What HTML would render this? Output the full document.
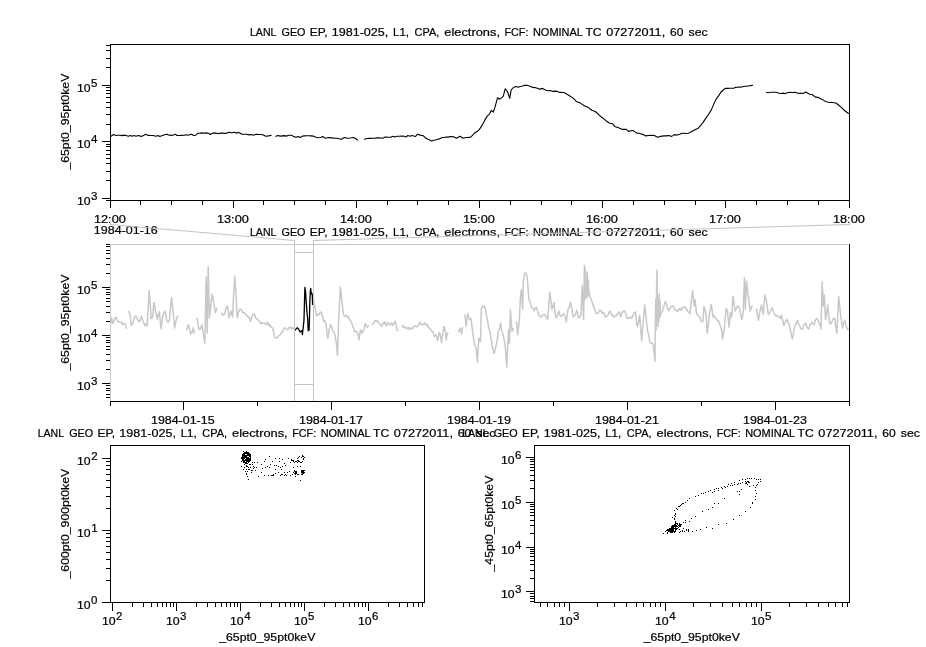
<!DOCTYPE html>
<html><head><meta charset="utf-8"><title>plot</title>
<style>
html,body{margin:0;padding:0;background:#fff;width:926px;height:647px;overflow:hidden;}
svg{display:block;will-change:transform;}
text{font-family:"Liberation Sans", sans-serif;stroke:#000;stroke-width:0.22px;}
</style></head><body>
<svg width="926" height="647" viewBox="0 0 926 647" font-family='"Liberation Sans", sans-serif' fill="#000">
<rect x="0" y="0" width="926" height="647" fill="#fff"/>
<text x="249.98" y="36" font-size="11.5" textLength="26.48" lengthAdjust="spacingAndGlyphs">LANL</text>
<text x="281.53" y="36" font-size="11.5" textLength="24.00" lengthAdjust="spacingAndGlyphs">GEO</text>
<text x="309.76" y="36" font-size="11.5" textLength="17.74" lengthAdjust="spacingAndGlyphs">EP,</text>
<text x="331.68" y="36" font-size="11.5" textLength="56.67" lengthAdjust="spacingAndGlyphs">1981-025,</text>
<text x="393.00" y="36" font-size="11.5" textLength="16.00" lengthAdjust="spacingAndGlyphs">L1,</text>
<text x="414.62" y="36" font-size="11.5" textLength="24.73" lengthAdjust="spacingAndGlyphs">CPA,</text>
<text x="444.34" y="36" font-size="11.5" textLength="55.62" lengthAdjust="spacingAndGlyphs">electrons,</text>
<text x="504.46" y="36" font-size="11.5" textLength="24.04" lengthAdjust="spacingAndGlyphs">FCF:</text>
<text x="532.95" y="36" font-size="11.5" textLength="49.94" lengthAdjust="spacingAndGlyphs">NOMINAL</text>
<text x="585.44" y="36" font-size="11.5" textLength="16.19" lengthAdjust="spacingAndGlyphs">TC</text>
<text x="606.15" y="36" font-size="11.5" textLength="59.07" lengthAdjust="spacingAndGlyphs">07272011,</text>
<text x="670.08" y="36" font-size="11.5" textLength="13.40" lengthAdjust="spacingAndGlyphs">60</text>
<text x="688.53" y="36" font-size="11.5" textLength="19.20" lengthAdjust="spacingAndGlyphs">sec</text>
<rect x="110" y="44" width="740" height="1" fill="#000"/>
<rect x="110" y="200" width="740" height="1" fill="#000"/>
<rect x="110" y="44" width="1" height="157" fill="#000"/>
<rect x="849" y="44" width="1" height="157" fill="#000"/>
<rect x="106" y="200" width="4" height="1" fill="#000"/>
<rect x="102" y="198" width="8" height="1" fill="#000"/>
<text x="77.00" y="205" font-size="11.5" textLength="13.58" lengthAdjust="spacingAndGlyphs">10</text>
<text x="91.00" y="200" font-size="11.5">3</text>
<rect x="106" y="180" width="4" height="1" fill="#000"/>
<rect x="106" y="171" width="4" height="1" fill="#000"/>
<rect x="106" y="163" width="4" height="1" fill="#000"/>
<rect x="106" y="158" width="4" height="1" fill="#000"/>
<rect x="106" y="154" width="4" height="1" fill="#000"/>
<rect x="106" y="150" width="4" height="1" fill="#000"/>
<rect x="106" y="146" width="4" height="1" fill="#000"/>
<rect x="106" y="144" width="4" height="1" fill="#000"/>
<rect x="102" y="141" width="8" height="1" fill="#000"/>
<text x="77.00" y="148" font-size="11.5" textLength="13.58" lengthAdjust="spacingAndGlyphs">10</text>
<text x="91.00" y="143" font-size="11.5">4</text>
<rect x="106" y="124" width="4" height="1" fill="#000"/>
<rect x="106" y="114" width="4" height="1" fill="#000"/>
<rect x="106" y="107" width="4" height="1" fill="#000"/>
<rect x="106" y="102" width="4" height="1" fill="#000"/>
<rect x="106" y="97" width="4" height="1" fill="#000"/>
<rect x="106" y="93" width="4" height="1" fill="#000"/>
<rect x="106" y="90" width="4" height="1" fill="#000"/>
<rect x="106" y="87" width="4" height="1" fill="#000"/>
<rect x="102" y="85" width="8" height="1" fill="#000"/>
<text x="77.00" y="92" font-size="11.5" textLength="13.58" lengthAdjust="spacingAndGlyphs">10</text>
<text x="91.00" y="87" font-size="11.5">5</text>
<rect x="106" y="67" width="4" height="1" fill="#000"/>
<rect x="106" y="58" width="4" height="1" fill="#000"/>
<rect x="106" y="50" width="4" height="1" fill="#000"/>
<rect x="106" y="45" width="4" height="1" fill="#000"/>
<rect x="110" y="201" width="1" height="7" fill="#000"/>
<rect x="140" y="201" width="1" height="4" fill="#000"/>
<rect x="171" y="201" width="1" height="4" fill="#000"/>
<rect x="202" y="201" width="1" height="4" fill="#000"/>
<rect x="233" y="201" width="1" height="7" fill="#000"/>
<rect x="263" y="201" width="1" height="4" fill="#000"/>
<rect x="294" y="201" width="1" height="4" fill="#000"/>
<rect x="325" y="201" width="1" height="4" fill="#000"/>
<rect x="356" y="201" width="1" height="7" fill="#000"/>
<rect x="387" y="201" width="1" height="4" fill="#000"/>
<rect x="417" y="201" width="1" height="4" fill="#000"/>
<rect x="448" y="201" width="1" height="4" fill="#000"/>
<rect x="479" y="201" width="1" height="7" fill="#000"/>
<rect x="510" y="201" width="1" height="4" fill="#000"/>
<rect x="541" y="201" width="1" height="4" fill="#000"/>
<rect x="571" y="201" width="1" height="4" fill="#000"/>
<rect x="602" y="201" width="1" height="7" fill="#000"/>
<rect x="633" y="201" width="1" height="4" fill="#000"/>
<rect x="664" y="201" width="1" height="4" fill="#000"/>
<rect x="695" y="201" width="1" height="4" fill="#000"/>
<rect x="725" y="201" width="1" height="7" fill="#000"/>
<rect x="756" y="201" width="1" height="4" fill="#000"/>
<rect x="787" y="201" width="1" height="4" fill="#000"/>
<rect x="818" y="201" width="1" height="4" fill="#000"/>
<rect x="849" y="201" width="1" height="7" fill="#000"/>
<text x="93.92" y="223" font-size="11.5" textLength="31.92" lengthAdjust="spacingAndGlyphs">12:00</text>
<text x="216.92" y="223" font-size="11.5" textLength="31.92" lengthAdjust="spacingAndGlyphs">13:00</text>
<text x="339.92" y="223" font-size="11.5" textLength="31.92" lengthAdjust="spacingAndGlyphs">14:00</text>
<text x="462.92" y="223" font-size="11.5" textLength="31.92" lengthAdjust="spacingAndGlyphs">15:00</text>
<text x="585.92" y="223" font-size="11.5" textLength="31.92" lengthAdjust="spacingAndGlyphs">16:00</text>
<text x="708.92" y="223" font-size="11.5" textLength="31.92" lengthAdjust="spacingAndGlyphs">17:00</text>
<text x="832.92" y="223" font-size="11.5" textLength="31.92" lengthAdjust="spacingAndGlyphs">18:00</text>
<text x="93.89" y="234" font-size="11.5" textLength="63.84" lengthAdjust="spacingAndGlyphs">1984-01-16</text>
<text x="0" y="0" font-size="11.5" textLength="95.82" lengthAdjust="spacingAndGlyphs" transform="translate(69,169.53) rotate(-90)">_65pt0_95pt0keV</text>
<g clip-path="url(#c1)">
<polyline points="110.5,136.2 111.0,136.2 113.6,134.5 115.8,135.5 117.9,135.3 119.9,135.2 122.0,135.6 124.0,135.1 126.1,135.5 128.3,136.2 130.5,135.5 132.2,136.2 133.9,135.5 136.1,136.2 138.2,135.5 141.3,136.4 143.0,135.8 145.6,134.3 148.2,135.4 150.6,135.5 152.9,135.5 156.4,136.2 158.1,135.5 159.8,136.4 162.4,135.5 164.6,134.8 166.7,134.3 170.2,135.4 172.8,135.2 175.4,134.3 177.1,135.5 180.6,135.4 184.0,135.2 186.0,134.8 188.0,135.2 191.4,134.2 193.8,135.5 195.8,135.2 197.7,133.3 199.8,133.3 202.0,132.9 204.1,133.2 206.3,132.9 208.4,133.3 210.4,134.5 212.3,133.3 214.4,132.9 216.5,133.2 218.6,133.6 220.6,133.0 222.7,133.1 224.8,133.4 226.9,133.3 228.8,132.3 231.7,132.7 234.6,132.3 236.6,133.3 238.5,132.3 241.9,134.2 244.2,134.3 246.6,134.3 248.9,134.9 251.2,134.5 253.6,135.2 256.0,134.2 259.9,134.5 262.8,134.7 265.7,136.2 268.7,135.9 271.6,135.2" fill="none" stroke="#000" stroke-width="1.1" stroke-linejoin="round"/>
<polyline points="275.4,136.4 277.6,135.6 280.8,136.1 284.0,135.6 286.2,136.1 288.9,135.3 291.6,135.3 293.8,136.6 295.9,137.2 298.1,136.6 300.2,137.5 302.4,136.1 304.6,135.9 306.7,135.8 308.9,135.8 311.0,135.9 313.2,136.1 316.4,137.5 318.6,137.8 320.8,137.5 322.9,136.4 325.1,138.3 328.3,137.5 331.6,137.9 334.8,138.3 337.0,138.3 339.1,138.8 341.3,139.3 344.5,137.5 347.8,138.3 350.5,138.0 353.2,137.5 355.3,138.3 358.0,140.4" fill="none" stroke="#000" stroke-width="1.1" stroke-linejoin="round"/>
<polyline points="364.0,139.3 365.0,139.0 368.6,138.3 370.6,138.4 372.7,138.2 374.7,138.3 376.7,137.9 378.7,137.9 380.8,138.0 382.8,138.3 385.2,137.1 388.1,137.3 391.1,137.1 392.9,136.3 394.7,137.1 397.1,136.3 399.5,136.2 401.8,136.1 404.2,136.3 406.0,137.1 407.8,135.5 410.1,136.3 411.9,135.5 415.5,136.5 417.3,134.3 420.2,135.1 423.2,135.7 425.6,138.1 428.6,139.5 431.5,141.0 433.9,140.2 436.3,139.8 439.2,138.9 442.2,137.5 444.2,137.5 446.2,137.0 448.2,137.1 450.5,136.5 454.1,136.9 456.5,138.3 460.0,136.3 463.0,138.3 466.0,137.5 468.4,137.4 470.7,137.1 472.9,134.9 475.0,132.7 477.1,131.5 479.3,129.6 482.5,124.6 484.9,119.9 487.4,115.9 489.3,114.4 491.4,110.3 493.3,112.2 495.1,106.6 497.6,97.7 499.8,99.2 503.2,96.4 505.3,88.7 507.5,91.8 509.7,98.3 511.2,89.9 513.4,87.5 515.8,86.4 518.3,87.2 520.0,86.5 522.0,86.2 524.0,85.4 527.0,85.2 529.4,86.0 531.7,87.1 535.0,87.6 538.0,88.6 540.0,89.1 542.6,88.4 546.0,90.2 548.2,90.8 550.4,90.5 553.0,91.4 555.1,91.1 557.3,91.4 559.9,92.4 563.8,92.5 567.6,94.5 569.8,96.0 573.3,98.1 576.7,101.8 579.7,102.6 582.3,104.4 584.9,105.9 588.4,107.6 591.8,110.2 595.3,111.5 598.7,114.6 600.0,116.0 602.1,117.5 604.3,119.1 606.7,121.3 609.1,123.0 612.5,123.7 614.7,126.4 618.6,127.7 622.5,129.4 626.3,129.4 628.5,131.4 630.9,130.7 633.3,130.6 636.3,132.9 638.5,133.3 640.6,133.8 643.2,134.6 645.8,135.9 648.4,135.5 651.8,135.3 654.4,135.5 657.5,137.2 660.5,136.4 663.9,135.9 666.5,135.9 669.1,135.5 671.7,136.4 674.3,134.6 676.9,135.1 679.7,134.2 682.0,133.3 684.3,133.3 686.4,133.5 688.5,133.3 690.8,131.9 694.5,130.0 698.2,128.2 700.5,125.6 702.9,122.6 706.6,117.1 708.9,113.7 711.2,110.1 714.0,103.6 716.8,98.1 718.9,95.4 721.0,92.0 723.3,90.0 725.6,88.3 727.7,88.4 729.8,88.2 731.8,88.3 733.9,88.3 735.3,87.4 737.5,87.3 739.6,87.1 741.8,87.0 744.6,86.3 746.9,86.3 749.2,85.7 752.9,85.4" fill="none" stroke="#000" stroke-width="1.1" stroke-linejoin="round"/>
<polyline points="766.0,92.3 768.4,92.7 770.7,92.3 773.6,92.3 776.5,92.3 779.0,93.3 781.1,93.5 783.2,93.1 785.3,93.6 789.2,92.3 792.1,92.5 795.0,92.3 797.9,93.3 800.8,93.4 803.7,93.3 805.7,92.0 809.6,94.2 812.0,94.5 815.4,97.1 818.3,97.4 822.2,99.4 824.7,101.1 827.1,102.0 829.5,102.5 831.9,102.5 834.1,102.7 836.3,103.3 838.5,105.0 840.7,106.9 844.5,110.5 848.0,113.2 849.5,113.4" fill="none" stroke="#000" stroke-width="1.1" stroke-linejoin="round"/>
</g>
<text x="249.98" y="236" font-size="11.5" textLength="26.48" lengthAdjust="spacingAndGlyphs">LANL</text>
<text x="281.53" y="236" font-size="11.5" textLength="24.00" lengthAdjust="spacingAndGlyphs">GEO</text>
<text x="309.76" y="236" font-size="11.5" textLength="17.74" lengthAdjust="spacingAndGlyphs">EP,</text>
<text x="331.68" y="236" font-size="11.5" textLength="56.67" lengthAdjust="spacingAndGlyphs">1981-025,</text>
<text x="393.00" y="236" font-size="11.5" textLength="16.00" lengthAdjust="spacingAndGlyphs">L1,</text>
<text x="414.62" y="236" font-size="11.5" textLength="24.73" lengthAdjust="spacingAndGlyphs">CPA,</text>
<text x="444.34" y="236" font-size="11.5" textLength="55.62" lengthAdjust="spacingAndGlyphs">electrons,</text>
<text x="504.46" y="236" font-size="11.5" textLength="24.04" lengthAdjust="spacingAndGlyphs">FCF:</text>
<text x="532.95" y="236" font-size="11.5" textLength="49.94" lengthAdjust="spacingAndGlyphs">NOMINAL</text>
<text x="585.44" y="236" font-size="11.5" textLength="16.19" lengthAdjust="spacingAndGlyphs">TC</text>
<text x="606.15" y="236" font-size="11.5" textLength="59.07" lengthAdjust="spacingAndGlyphs">07272011,</text>
<text x="670.08" y="236" font-size="11.5" textLength="13.40" lengthAdjust="spacingAndGlyphs">60</text>
<text x="688.53" y="236" font-size="11.5" textLength="19.20" lengthAdjust="spacingAndGlyphs">sec</text>
<polyline points="110.8,322.9 111.7,317.8 112.5,323.7 113.8,321.5 115.1,317.8 116.3,317.4 117.6,321.2 118.9,321.7 120.2,322.6 121.5,322.1 122.7,324.6 124.4,323.2 125.5,324.3 126.5,328.8" fill="none" stroke="#c8c8c8" stroke-width="1.5" stroke-linejoin="round"/>
<polyline points="128.4,311.0 130.0,314.4 131.2,325.4 132.9,322.9 134.6,317.0 135.9,315.9 137.2,318.6 138.9,322.0 140.2,320.2 141.4,316.1 143.1,321.2 144.8,325.4 145.9,324.1 147.1,326.0 147.7,316.1 149.1,290.6 150.3,304.2 151.1,318.6 152.5,317.8 153.9,302.5 155.6,311.0 157.3,319.5 158.3,314.5 159.3,311.8 161.0,328.8 162.7,316.1 163.9,313.1 165.2,311.0 166.9,321.2 168.2,322.4 169.5,320.3 170.5,307.0 171.5,297.4 173.2,312.7 174.6,328.0 176.3,319.5 178.0,315.2" fill="none" stroke="#c8c8c8" stroke-width="1.5" stroke-linejoin="round"/>
<polyline points="186.5,330.5 187.5,327.3 188.5,324.6 189.6,329.5 190.7,333.9 192.0,332.6 193.3,328.0 194.5,333.9" fill="none" stroke="#c8c8c8" stroke-width="1.5" stroke-linejoin="round"/>
<polyline points="197.0,317.8 198.1,325.2 199.2,329.7 200.5,328.8 201.8,324.6 202.8,329.9 203.8,336.7 204.8,343.3 206.2,277.0 207.2,333.1 208.2,266.8 209.4,317.8 210.3,311.0 212.0,294.0 213.7,302.5 215.4,312.7 216.4,309.5 217.4,307.6" fill="none" stroke="#c8c8c8" stroke-width="1.5" stroke-linejoin="round"/>
<polyline points="221.3,312.7 222.4,314.7 223.6,315.2 224.7,313.5 226.0,308.2 227.3,305.9 229.2,317.8 231.0,311.0 232.6,316.9 233.6,295.1 234.7,276.1 236.0,294.0 237.2,317.8 238.6,311.8 239.8,309.4 241.1,309.3 242.8,312.7 244.1,312.4 245.4,314.4 246.5,315.2 247.7,316.5 248.8,316.9 250.5,321.2 251.8,316.8 253.0,314.4 254.3,313.9 255.6,317.8 256.7,318.6 257.9,319.5 259.0,321.2 260.0,321.8 261.0,323.9 262.1,323.1 263.1,322.6 264.1,322.9 265.3,323.8 266.5,324.4 267.6,322.0 268.8,326.0 270.0,324.6 271.3,327.5 272.6,328.0 274.3,335.6 275.4,337.8 276.6,338.0 277.7,337.3 278.9,335.6 280.2,334.8 281.5,332.7 282.8,331.4 284.1,328.0 285.3,328.0 286.6,329.4 287.9,329.7 289.0,327.5 290.2,327.2 291.3,328.8 292.3,327.8 293.4,327.9 294.4,329.7" fill="none" stroke="#c8c8c8" stroke-width="1.5" stroke-linejoin="round"/>
<polyline points="313.5,300.0 315.1,308.4 316.8,316.1 318.1,314.5 319.3,314.4 320.6,312.0 321.9,313.5 323.6,321.2 324.9,320.7 326.1,324.6 327.8,338.2 329.1,329.9 330.4,324.6 331.6,326.2 332.9,331.4 334.0,332.5 335.1,334.8 336.3,342.9 337.5,355.2 338.5,324.6 340.3,287.2 341.7,299.1 343.4,314.4 344.6,316.4 345.9,315.2 347.0,317.1 348.2,316.5 349.3,319.5 350.6,320.5 351.9,323.7 353.1,326.9 354.4,331.4 355.7,331.2 357.0,332.2 358.0,334.4 359.0,339.9 360.4,329.7 362.1,333.1 363.1,331.5 364.2,329.0 365.2,323.7 366.2,325.3 367.2,327.1 368.9,325.4" fill="none" stroke="#c8c8c8" stroke-width="1.5" stroke-linejoin="round"/>
<polyline points="371.4,324.6 372.7,323.7 374.0,322.9 375.2,320.4 376.5,321.5 377.6,320.7 378.6,322.8 379.7,323.4 380.8,325.4 381.9,326.3 383.1,322.8 384.2,323.7 385.2,321.7 386.2,325.9 387.3,324.2 388.3,322.6 389.3,324.3 390.4,324.9 391.6,323.0 392.7,325.4 393.9,323.4 395.2,321.2 396.1,326.3 397.4,330.5 398.6,330.5" fill="none" stroke="#c8c8c8" stroke-width="1.5" stroke-linejoin="round"/>
<polyline points="402.0,324.6 403.1,327.2 404.1,327.6 405.2,326.7 406.3,328.8 407.3,328.1 408.3,327.0 409.4,329.5 410.4,328.3 411.4,328.0 412.4,328.9 413.5,326.6 414.6,325.7 415.6,326.6 416.7,326.8 417.8,326.4 418.8,324.7 419.9,322.0 421.0,324.1 422.2,324.9 423.3,324.3 425.0,322.9 426.1,325.4 427.3,324.5 428.4,327.1 429.5,328.6 430.7,329.3 431.8,331.4 433.1,331.9 434.3,336.5 436.0,334.8 437.7,340.7 439.4,332.2 440.4,335.2 441.5,342.4 442.8,333.4 444.0,326.3 445.4,331.4 446.2,339.9 447.4,333.1 448.4,333.9" fill="none" stroke="#c8c8c8" stroke-width="1.5" stroke-linejoin="round"/>
<polyline points="458.4,332.2 460.1,328.0 461.5,333.9 462.6,327.1" fill="none" stroke="#c8c8c8" stroke-width="1.5" stroke-linejoin="round"/>
<polyline points="464.9,314.4 466.0,326.3 467.7,313.5 469.4,319.5 471.1,318.6 472.8,333.1 474.5,345.0 476.2,348.4 477.4,362.0 478.8,338.2 480.5,341.6 481.3,309.3 483.0,305.9 484.1,306.1 485.3,308.4 486.3,314.3 487.3,318.6 488.6,327.0 489.8,331.4 491.1,338.8 492.4,346.7 494.1,353.5 495.8,346.7 497.1,341.0 498.3,331.4 499.5,329.3 500.6,322.9 501.6,330.0 502.6,333.1 503.9,338.5 505.1,345.0 506.8,367.1 508.5,329.7 509.4,343.3 510.4,310.1 512.0,331.4 513.6,328.0" fill="none" stroke="#c8c8c8" stroke-width="1.5" stroke-linejoin="round"/>
<polyline points="516.5,321.2 517.6,334.8 519.3,321.2 520.4,297.4 521.3,289.7 522.7,309.3 523.3,280.4 525.0,272.7 526.1,273.6 527.2,277.0 528.9,299.1 530.2,302.1 531.5,307.6 532.8,308.0 534.0,311.0 535.3,308.0 536.6,307.6 537.9,311.9 539.1,315.2 540.2,317.0 541.4,316.7 542.5,315.2 543.8,314.7 545.1,314.4 546.4,317.5 547.6,319.2 548.7,307.1 549.8,292.3 550.8,299.0 551.9,309.3 552.9,306.6 553.9,302.5 555.0,312.0 556.1,317.8 557.4,315.6 558.7,311.0 560.0,315.1 561.2,316.9 562.5,315.1 563.8,313.5 565.0,316.3 566.3,322.0 568.0,309.3 569.3,307.2 570.6,302.5 572.0,309.4 573.1,317.0 574.1,315.4 575.1,315.3 576.8,310.2 578.5,317.9 579.8,317.5 581.0,314.5 582.2,285.6 583.6,319.6 584.4,265.2 584.8,300.0 585.2,268.0 585.6,277.1 586.0,295.0 586.7,298.3 587.3,272.0 587.8,296.0 588.2,280.0 588.7,290.7 590.0,297.0 591.2,299.2 592.5,303.0 593.8,307.7 594.8,309.2 595.9,313.6 596.9,313.6 598.3,312.9 599.7,310.2 601.0,310.4 602.3,313.6 603.3,312.6 604.4,313.4 605.5,317.3 606.5,316.2 607.8,315.4 609.1,311.9 610.2,311.2 611.4,315.1 612.5,314.5 613.6,317.2 614.8,316.3 615.9,316.2 617.0,314.1 618.2,313.5 619.3,311.9 621.0,317.0 622.2,312.4 623.5,311.1 624.8,311.1 626.1,315.3 627.2,318.2 628.4,317.7 629.5,317.9 630.6,317.2 631.8,318.1 632.9,315.3 634.1,313.3 635.4,311.9 637.1,326.4 638.4,322.5 639.7,315.3 640.7,329.5 641.7,340.8 642.7,327.6 643.8,315.9 644.8,305.1 646.0,316.5 647.3,329.8 648.6,334.6 649.9,341.7 651.0,343.2 652.2,342.9 653.3,345.1 655.0,361.2 655.5,310.0 655.8,299.2 656.2,330.0 656.6,285.0 657.0,270.3 657.3,318.0 657.6,300.0 658.0,326.4 658.4,298.0 658.8,322.0 659.2,294.1 659.6,318.0 660.0,300.0 660.4,316.0 660.9,312.8 662.6,311.1 663.9,306.0 665.2,301.7 666.5,303.9 667.7,309.4 669.0,310.4 670.3,307.7 671.5,306.2 672.8,306.0 674.1,307.9 675.4,310.2 676.5,310.3 677.7,311.4 678.8,309.4 679.9,308.5 681.1,310.1 682.2,307.7 683.6,307.2 685.0,306.7 686.2,309.0 687.5,311.0 688.8,312.4 690.1,313.5 691.4,299.9 692.6,290.6 694.3,305.9 695.2,300.0 696.6,314.4 697.6,315.0 698.6,316.1 699.9,317.3 701.1,321.2 702.8,322.0 704.0,306.7 705.1,309.2 706.2,316.1 707.1,333.1 708.4,324.2 709.6,312.7 711.3,304.5 713.0,316.9 714.1,316.0 715.3,317.9 716.4,318.6 717.7,320.9 719.0,321.2 720.2,325.7 721.5,329.7 722.7,339.0 724.4,328.0 726.1,308.4 727.5,311.0 728.9,327.1 730.6,312.7 731.7,316.9 732.9,296.5 734.0,303.0 735.1,311.0 736.4,308.5 737.7,305.9 739.4,307.6 740.6,313.8 741.9,319.5 743.1,312.7 744.5,277.8 745.3,309.3 746.5,281.2 748.2,295.7 749.3,304.6 750.4,311.0 751.5,306.7 752.7,305.9" fill="none" stroke="#c8c8c8" stroke-width="1.5" stroke-linejoin="round"/>
<polyline points="756.4,308.4 757.4,314.6 758.4,320.3 759.4,314.1 760.5,309.1 761.5,305.0 763.2,314.4 764.9,294.8 766.6,301.6 768.3,314.4 769.5,313.3 770.8,309.9 772.0,307.6 773.1,310.8 774.2,313.5 775.3,315.2 776.5,316.4 777.6,315.2 778.9,316.7 780.2,318.6 781.5,315.2 782.7,320.8 783.9,325.4 785.2,322.3 786.6,319.2 788.0,322.4 789.5,325.4 791.0,333.0 792.4,339.0 793.5,332.8 794.6,327.1 795.6,325.0 796.6,322.5 797.6,320.4 798.6,324.5 799.6,325.5 800.6,328.4 801.6,328.9 802.7,329.3 803.8,324.8 804.8,324.7 805.9,322.9 806.9,326.9 808.0,328.4 809.0,328.9 810.0,324.8 811.0,323.8 812.0,322.4 813.1,324.1 814.1,324.6 815.5,319.8 817.0,318.7 818.3,321.0 819.6,323.6 820.9,328.9 822.2,282.1 823.3,305.9 824.3,294.9 825.5,319.5 826.6,313.0 827.7,305.1 828.7,315.7 829.7,323.8 831.0,323.8 832.3,320.4 833.5,318.0 834.8,318.7 835.8,326.9 836.9,333.1 838.7,296.6 839.8,307.1 840.8,316.1 842.5,328.0 843.8,322.6 845.0,320.4 846.3,326.7 847.6,329.7 848.4,328.0" fill="none" stroke="#c8c8c8" stroke-width="1.5" stroke-linejoin="round"/>
<polyline points="294.6,330.3 295.0,330.1 297.3,327.8 298.7,329.2 300.1,332.0 301.9,330.6 302.4,334.7 303.3,326.4 304.0,319.9 304.5,301.3 304.9,287.4 305.6,292.1 306.1,300.4 307.0,312.5 307.7,319.0 308.2,330.6 309.1,330.1 309.5,317.1 309.8,302.3 310.3,292.1 310.7,288.3 311.2,293.9 311.7,293.0 312.3,294.8 312.6,305.0" fill="none" stroke="#000" stroke-width="1.3" stroke-linejoin="round"/>
<rect x="110" y="244" width="740" height="1" fill="#c8c8c8"/>
<rect x="110" y="244" width="1" height="158" fill="#c8c8c8"/>
<rect x="110" y="401" width="740" height="1" fill="#000"/>
<rect x="849" y="244" width="1" height="158" fill="#000"/>
<rect x="106" y="397" width="4" height="1" fill="#000"/>
<rect x="106" y="394" width="4" height="1" fill="#000"/>
<rect x="106" y="390" width="4" height="1" fill="#000"/>
<rect x="106" y="388" width="4" height="1" fill="#000"/>
<rect x="106" y="385" width="4" height="1" fill="#000"/>
<rect x="102" y="383" width="8" height="1" fill="#000"/>
<text x="77.00" y="390" font-size="11.5" textLength="13.58" lengthAdjust="spacingAndGlyphs">10</text>
<text x="91.00" y="385" font-size="11.5">3</text>
<rect x="106" y="369" width="4" height="1" fill="#000"/>
<rect x="106" y="360" width="4" height="1" fill="#000"/>
<rect x="106" y="354" width="4" height="1" fill="#000"/>
<rect x="106" y="349" width="4" height="1" fill="#000"/>
<rect x="106" y="346" width="4" height="1" fill="#000"/>
<rect x="106" y="342" width="4" height="1" fill="#000"/>
<rect x="106" y="340" width="4" height="1" fill="#000"/>
<rect x="106" y="337" width="4" height="1" fill="#000"/>
<rect x="102" y="335" width="8" height="1" fill="#000"/>
<text x="77.00" y="342" font-size="11.5" textLength="13.58" lengthAdjust="spacingAndGlyphs">10</text>
<text x="91.00" y="337" font-size="11.5">4</text>
<rect x="106" y="321" width="4" height="1" fill="#000"/>
<rect x="106" y="312" width="4" height="1" fill="#000"/>
<rect x="106" y="306" width="4" height="1" fill="#000"/>
<rect x="106" y="301" width="4" height="1" fill="#000"/>
<rect x="106" y="298" width="4" height="1" fill="#000"/>
<rect x="106" y="294" width="4" height="1" fill="#000"/>
<rect x="106" y="292" width="4" height="1" fill="#000"/>
<rect x="106" y="289" width="4" height="1" fill="#000"/>
<rect x="102" y="287" width="8" height="1" fill="#000"/>
<text x="77.00" y="294" font-size="11.5" textLength="13.58" lengthAdjust="spacingAndGlyphs">10</text>
<text x="91.00" y="289" font-size="11.5">5</text>
<rect x="106" y="273" width="4" height="1" fill="#000"/>
<rect x="106" y="264" width="4" height="1" fill="#000"/>
<rect x="106" y="258" width="4" height="1" fill="#000"/>
<rect x="106" y="253" width="4" height="1" fill="#000"/>
<rect x="106" y="250" width="4" height="1" fill="#000"/>
<rect x="106" y="246" width="4" height="1" fill="#000"/>
<rect x="106" y="244" width="4" height="1" fill="#000"/>
<rect x="110" y="402" width="1" height="4" fill="#000"/>
<rect x="183" y="402" width="1" height="8" fill="#000"/>
<text x="150.99" y="424" font-size="11.5" textLength="63.56" lengthAdjust="spacingAndGlyphs">1984-01-15</text>
<rect x="257" y="402" width="1" height="4" fill="#000"/>
<rect x="331" y="402" width="1" height="8" fill="#000"/>
<text x="298.99" y="424" font-size="11.5" textLength="63.84" lengthAdjust="spacingAndGlyphs">1984-01-17</text>
<rect x="405" y="402" width="1" height="4" fill="#000"/>
<rect x="479" y="402" width="1" height="8" fill="#000"/>
<text x="446.99" y="424" font-size="11.5" textLength="63.84" lengthAdjust="spacingAndGlyphs">1984-01-19</text>
<rect x="553" y="402" width="1" height="4" fill="#000"/>
<rect x="627" y="402" width="1" height="8" fill="#000"/>
<text x="594.99" y="424" font-size="11.5" textLength="63.84" lengthAdjust="spacingAndGlyphs">1984-01-21</text>
<rect x="701" y="402" width="1" height="4" fill="#000"/>
<rect x="775" y="402" width="1" height="8" fill="#000"/>
<text x="742.99" y="424" font-size="11.5" textLength="63.84" lengthAdjust="spacingAndGlyphs">1984-01-23</text>
<rect x="849" y="402" width="1" height="4" fill="#000"/>
<text x="0" y="0" font-size="11.5" textLength="95.92" lengthAdjust="spacingAndGlyphs" transform="translate(69,370.53) rotate(-90)">_65pt0_95pt0keV</text>
<rect x="294" y="240" width="1" height="161" fill="#c4c4c4"/>
<rect x="313" y="240" width="1" height="161" fill="#c4c4c4"/>
<rect x="294" y="252" width="20" height="1" fill="#c4c4c4"/>
<rect x="294" y="384" width="20" height="1" fill="#c4c4c4"/>
<rect x="110" y="222" width="1" height="3" fill="#c4c4c4"/>
<rect x="849" y="222" width="1" height="3" fill="#c4c4c4"/>
<line x1="110.5" y1="224.5" x2="294.5" y2="240.5" stroke="#c4c4c4" stroke-width="1"/>
<line x1="849.5" y1="224.5" x2="313.5" y2="240.5" stroke="#c4c4c4" stroke-width="1"/>
<text x="37.68" y="437" font-size="11.5" textLength="26.48" lengthAdjust="spacingAndGlyphs">LANL</text>
<text x="69.23" y="437" font-size="11.5" textLength="24.00" lengthAdjust="spacingAndGlyphs">GEO</text>
<text x="97.46" y="437" font-size="11.5" textLength="17.74" lengthAdjust="spacingAndGlyphs">EP,</text>
<text x="119.38" y="437" font-size="11.5" textLength="56.67" lengthAdjust="spacingAndGlyphs">1981-025,</text>
<text x="180.70" y="437" font-size="11.5" textLength="16.00" lengthAdjust="spacingAndGlyphs">L1,</text>
<text x="202.32" y="437" font-size="11.5" textLength="24.73" lengthAdjust="spacingAndGlyphs">CPA,</text>
<text x="232.04" y="437" font-size="11.5" textLength="55.62" lengthAdjust="spacingAndGlyphs">electrons,</text>
<text x="292.16" y="437" font-size="11.5" textLength="24.04" lengthAdjust="spacingAndGlyphs">FCF:</text>
<text x="320.65" y="437" font-size="11.5" textLength="49.94" lengthAdjust="spacingAndGlyphs">NOMINAL</text>
<text x="373.14" y="437" font-size="11.5" textLength="16.19" lengthAdjust="spacingAndGlyphs">TC</text>
<text x="393.85" y="437" font-size="11.5" textLength="59.07" lengthAdjust="spacingAndGlyphs">07272011,</text>
<text x="457.78" y="437" font-size="11.5" textLength="13.40" lengthAdjust="spacingAndGlyphs">60</text>
<text x="476.23" y="437" font-size="11.5" textLength="19.20" lengthAdjust="spacingAndGlyphs">sec</text>
<rect x="110" y="445" width="315" height="1" fill="#000"/>
<rect x="110" y="602" width="315" height="1" fill="#000"/>
<rect x="110" y="445" width="1" height="158" fill="#000"/>
<rect x="424" y="445" width="1" height="158" fill="#000"/>
<rect x="102" y="602" width="8" height="1" fill="#000"/>
<text x="77.00" y="609" font-size="11.5" textLength="13.58" lengthAdjust="spacingAndGlyphs">10</text>
<text x="91.00" y="604" font-size="11.5">0</text>
<rect x="106" y="580" width="4" height="1" fill="#000"/>
<rect x="106" y="568" width="4" height="1" fill="#000"/>
<rect x="106" y="559" width="4" height="1" fill="#000"/>
<rect x="106" y="552" width="4" height="1" fill="#000"/>
<rect x="106" y="546" width="4" height="1" fill="#000"/>
<rect x="106" y="541" width="4" height="1" fill="#000"/>
<rect x="106" y="537" width="4" height="1" fill="#000"/>
<rect x="106" y="533" width="4" height="1" fill="#000"/>
<rect x="102" y="530" width="8" height="1" fill="#000"/>
<text x="77.00" y="537" font-size="11.5" textLength="13.58" lengthAdjust="spacingAndGlyphs">10</text>
<text x="91.25" y="532" font-size="11.5">1</text>
<rect x="106" y="508" width="4" height="1" fill="#000"/>
<rect x="106" y="496" width="4" height="1" fill="#000"/>
<rect x="106" y="487" width="4" height="1" fill="#000"/>
<rect x="106" y="480" width="4" height="1" fill="#000"/>
<rect x="106" y="474" width="4" height="1" fill="#000"/>
<rect x="106" y="469" width="4" height="1" fill="#000"/>
<rect x="106" y="465" width="4" height="1" fill="#000"/>
<rect x="106" y="461" width="4" height="1" fill="#000"/>
<rect x="102" y="458" width="8" height="1" fill="#000"/>
<text x="77.00" y="465" font-size="11.5" textLength="13.58" lengthAdjust="spacingAndGlyphs">10</text>
<text x="91.25" y="460" font-size="11.5">2</text>
<rect x="112" y="603" width="1" height="8" fill="#000"/>
<text x="101.90" y="625" font-size="11.5" textLength="13.69" lengthAdjust="spacingAndGlyphs">10</text>
<text x="116.10" y="620" font-size="11.5">2</text>
<rect x="132" y="603" width="1" height="4" fill="#000"/>
<rect x="143" y="603" width="1" height="4" fill="#000"/>
<rect x="151" y="603" width="1" height="4" fill="#000"/>
<rect x="157" y="603" width="1" height="4" fill="#000"/>
<rect x="162" y="603" width="1" height="4" fill="#000"/>
<rect x="166" y="603" width="1" height="4" fill="#000"/>
<rect x="170" y="603" width="1" height="4" fill="#000"/>
<rect x="173" y="603" width="1" height="4" fill="#000"/>
<rect x="176" y="603" width="1" height="8" fill="#000"/>
<text x="165.90" y="625" font-size="11.5" textLength="13.69" lengthAdjust="spacingAndGlyphs">10</text>
<text x="180.10" y="620" font-size="11.5">3</text>
<rect x="196" y="603" width="1" height="4" fill="#000"/>
<rect x="207" y="603" width="1" height="4" fill="#000"/>
<rect x="215" y="603" width="1" height="4" fill="#000"/>
<rect x="221" y="603" width="1" height="4" fill="#000"/>
<rect x="226" y="603" width="1" height="4" fill="#000"/>
<rect x="230" y="603" width="1" height="4" fill="#000"/>
<rect x="234" y="603" width="1" height="4" fill="#000"/>
<rect x="237" y="603" width="1" height="4" fill="#000"/>
<rect x="240" y="603" width="1" height="8" fill="#000"/>
<text x="229.90" y="625" font-size="11.5" textLength="13.69" lengthAdjust="spacingAndGlyphs">10</text>
<text x="244.35" y="620" font-size="11.5">4</text>
<rect x="260" y="603" width="1" height="4" fill="#000"/>
<rect x="271" y="603" width="1" height="4" fill="#000"/>
<rect x="279" y="603" width="1" height="4" fill="#000"/>
<rect x="285" y="603" width="1" height="4" fill="#000"/>
<rect x="290" y="603" width="1" height="4" fill="#000"/>
<rect x="294" y="603" width="1" height="4" fill="#000"/>
<rect x="298" y="603" width="1" height="4" fill="#000"/>
<rect x="301" y="603" width="1" height="4" fill="#000"/>
<rect x="304" y="603" width="1" height="8" fill="#000"/>
<text x="293.90" y="625" font-size="11.5" textLength="13.69" lengthAdjust="spacingAndGlyphs">10</text>
<text x="308.10" y="620" font-size="11.5">5</text>
<rect x="324" y="603" width="1" height="4" fill="#000"/>
<rect x="335" y="603" width="1" height="4" fill="#000"/>
<rect x="343" y="603" width="1" height="4" fill="#000"/>
<rect x="349" y="603" width="1" height="4" fill="#000"/>
<rect x="354" y="603" width="1" height="4" fill="#000"/>
<rect x="358" y="603" width="1" height="4" fill="#000"/>
<rect x="362" y="603" width="1" height="4" fill="#000"/>
<rect x="365" y="603" width="1" height="4" fill="#000"/>
<rect x="368" y="603" width="1" height="8" fill="#000"/>
<text x="357.90" y="625" font-size="11.5" textLength="13.69" lengthAdjust="spacingAndGlyphs">10</text>
<text x="372.10" y="620" font-size="11.5">6</text>
<rect x="388" y="603" width="1" height="4" fill="#000"/>
<rect x="399" y="603" width="1" height="4" fill="#000"/>
<rect x="407" y="603" width="1" height="4" fill="#000"/>
<rect x="413" y="603" width="1" height="4" fill="#000"/>
<rect x="418" y="603" width="1" height="4" fill="#000"/>
<rect x="422" y="603" width="1" height="4" fill="#000"/>
<text x="0" y="0" font-size="11.5" textLength="109.65" lengthAdjust="spacingAndGlyphs" transform="translate(69,578.48) rotate(-90)">_600pt0_900pt0keV</text>
<text x="219.17" y="641" font-size="11.5" textLength="96.22" lengthAdjust="spacingAndGlyphs">_65pt0_95pt0keV</text>
<path d="M241 466h1v1h-1zM241 461h1v1h-1zM243 451h1v1h-1zM246 466h1v1h-1zM246 469h1v1h-1zM246 473h1v1h-1zM247 476h1v1h-1zM248 479h1v1h-1zM249 469h1v1h-1zM252 464h1v1h-1zM252 470h1v1h-1zM254 462h1v1h-1zM254 467h1v1h-1zM256 467h1v1h-1zM257 462h1v1h-1zM258 476h1v1h-1zM261 464h1v1h-1zM261 472h1v1h-1zM262 468h1v1h-1zM264 461h1v1h-1zM265 459h1v1h-1zM264 475h1v1h-1zM265 467h1v1h-1zM267 466h1v1h-1zM268 475h1v1h-1zM269 456h1v1h-1zM269 467h1v1h-1zM270 464h1v1h-1zM271 475h1v1h-1zM272 461h1v1h-1zM273 475h1v1h-1zM274 465h1v1h-1zM275 473h1v1h-1zM275 458h1v1h-1zM275 469h1v1h-1zM276 465h1v1h-1zM278 466h1v1h-1zM278 472h1v1h-1zM279 458h1v1h-1zM279 461h1v1h-1zM280 467h1v1h-1zM280 475h1v1h-1zM281 469h1v1h-1zM282 459h1v1h-1zM282 466h1v1h-1zM284 472h1v1h-1zM284 463h1v1h-1zM285 474h1v1h-1zM285 465h1v1h-1zM286 475h1v1h-1zM287 472h1v1h-1zM288 458h1v1h-1zM289 471h1v1h-1zM290 462h1v1h-1zM290 475h1v1h-1zM291 460h1v1h-1zM293 461h1v1h-1zM293 467h1v1h-1zM294 471h1v1h-1zM295 472h1v1h-1zM295 476h1v1h-1zM296 461h1v1h-1zM297 460h1v1h-1zM297 466h1v1h-1zM297 458h1v1h-1zM298 474h1v1h-1zM298 461h1v1h-1zM299 456h1v1h-1zM300 466h1v1h-1zM300 480h1v1h-1zM301 462h1v1h-1zM301 472h1v1h-1zM302 456h1v1h-1zM302 461h1v1h-1zM303 471h1v1h-1zM303 458h1v1h-1zM304 472h1v1h-1zM248 467h1v1h-1zM250 467h1v1h-1zM253 468h1v1h-1zM255 470h1v1h-1zM251 472h1v1h-1zM247 471h1v1h-1zM296 472h1v1h-1zM294 470h1v1h-1zM295 473h1v1h-1zM302 471h1v1h-1zM303 472h1v1h-1zM302 470h1v1h-1zM299 461h1v1h-1zM298 460h1v1h-1zM294 462h1v1h-1zM292 460h1v1h-1zM284 475h1v1h-1zM282 474h1v1h-1zM281 474h1v1h-1zM273 474h1v1h-1zM272 475h1v1h-1zM242 455h1v1h-1zM244 464h1v1h-1zM246 465h1v1h-1zM249 464h1v1h-1zM250 464h1v1h-1zM252 462h1v1h-1zM247 466h1v1h-1zM244 467h1v1h-1zM245 471h1v1h-1zM246 474h1v1h-1zM243 469h1v1h-1zM248 469h1v1h-1zM251 470h1v1h-1zM253 466h1v1h-1zM294 473h1v1h-1zM296 471h1v1h-1zM293 472h1v1h-1zM302 472h1v1h-1zM301 471h1v1h-1zM303 470h1v1h-1zM301 474h1v1h-1zM297 474h1v1h-1zM292 474h1v1h-1zM295 471h1v1h-1zM295 474h1v1h-1zM296 473h1v1h-1zM301 470h1v1h-1zM302 473h1v1h-1zM303 473h1v1h-1zM302 474h1v1h-1zM304 470h1v1h-1zM298 457h1v1h-1zM302 455h1v1h-1zM303 456h1v1h-1zM304 457h1v1h-1zM303 459h1v1h-1zM300 462h1v1h-1zM297 462h1v1h-1zM295 461h1v1h-1zM293 460h1v1h-1zM291 459h1v1h-1zM301 457h1v1h-1zM246 451h1v1h-1zM244 452h1v1h-1zM245 452h1v1h-1zM246 452h1v1h-1zM247 452h1v1h-1zM248 452h1v1h-1zM243 453h1v1h-1zM244 453h1v1h-1zM245 453h1v1h-1zM246 453h1v1h-1zM247 453h1v1h-1zM248 453h1v1h-1zM249 453h1v1h-1zM242 454h1v1h-1zM243 454h1v1h-1zM244 454h1v1h-1zM247 454h1v1h-1zM248 454h1v1h-1zM249 454h1v1h-1zM250 454h1v1h-1zM243 455h1v1h-1zM244 455h1v1h-1zM245 455h1v1h-1zM246 455h1v1h-1zM247 455h1v1h-1zM248 455h1v1h-1zM249 455h1v1h-1zM250 455h1v1h-1zM242 456h1v1h-1zM243 456h1v1h-1zM244 456h1v1h-1zM245 456h1v1h-1zM246 456h1v1h-1zM249 456h1v1h-1zM250 456h1v1h-1zM241 457h1v1h-1zM242 457h1v1h-1zM243 457h1v1h-1zM244 457h1v1h-1zM245 457h1v1h-1zM246 457h1v1h-1zM247 457h1v1h-1zM248 457h1v1h-1zM250 457h1v1h-1zM241 458h1v1h-1zM242 458h1v1h-1zM243 458h1v1h-1zM244 458h1v1h-1zM246 458h1v1h-1zM247 458h1v1h-1zM248 458h1v1h-1zM249 458h1v1h-1zM250 458h1v1h-1zM242 459h1v1h-1zM243 459h1v1h-1zM245 459h1v1h-1zM246 459h1v1h-1zM247 459h1v1h-1zM248 459h1v1h-1zM249 459h1v1h-1zM250 459h1v1h-1zM242 460h1v1h-1zM243 460h1v1h-1zM244 460h1v1h-1zM245 460h1v1h-1zM246 460h1v1h-1zM247 460h1v1h-1zM248 460h1v1h-1zM249 460h1v1h-1zM250 460h1v1h-1zM243 461h1v1h-1zM244 461h1v1h-1zM246 461h1v1h-1zM247 461h1v1h-1zM248 461h1v1h-1zM249 461h1v1h-1zM243 462h1v1h-1zM244 462h1v1h-1zM245 462h1v1h-1zM246 462h1v1h-1zM248 462h1v1h-1zM245 463h1v1h-1zM246 463h1v1h-1zM247 463h1v1h-1z" fill="#000"/>
<text x="462.18" y="437" font-size="11.5" textLength="26.48" lengthAdjust="spacingAndGlyphs">LANL</text>
<text x="493.73" y="437" font-size="11.5" textLength="24.00" lengthAdjust="spacingAndGlyphs">GEO</text>
<text x="521.96" y="437" font-size="11.5" textLength="17.75" lengthAdjust="spacingAndGlyphs">EP,</text>
<text x="543.88" y="437" font-size="11.5" textLength="56.67" lengthAdjust="spacingAndGlyphs">1981-025,</text>
<text x="605.20" y="437" font-size="11.5" textLength="16.00" lengthAdjust="spacingAndGlyphs">L1,</text>
<text x="626.82" y="437" font-size="11.5" textLength="24.73" lengthAdjust="spacingAndGlyphs">CPA,</text>
<text x="656.54" y="437" font-size="11.5" textLength="55.62" lengthAdjust="spacingAndGlyphs">electrons,</text>
<text x="716.66" y="437" font-size="11.5" textLength="24.04" lengthAdjust="spacingAndGlyphs">FCF:</text>
<text x="745.15" y="437" font-size="11.5" textLength="49.94" lengthAdjust="spacingAndGlyphs">NOMINAL</text>
<text x="797.64" y="437" font-size="11.5" textLength="16.19" lengthAdjust="spacingAndGlyphs">TC</text>
<text x="818.35" y="437" font-size="11.5" textLength="59.07" lengthAdjust="spacingAndGlyphs">07272011,</text>
<text x="882.28" y="437" font-size="11.5" textLength="13.40" lengthAdjust="spacingAndGlyphs">60</text>
<text x="900.73" y="437" font-size="11.5" textLength="19.20" lengthAdjust="spacingAndGlyphs">sec</text>
<rect x="534" y="445" width="316" height="1" fill="#000"/>
<rect x="534" y="602" width="316" height="1" fill="#000"/>
<rect x="534" y="445" width="1" height="158" fill="#000"/>
<rect x="849" y="445" width="1" height="158" fill="#000"/>
<rect x="530" y="601" width="4" height="1" fill="#000"/>
<rect x="530" y="598" width="4" height="1" fill="#000"/>
<rect x="530" y="596" width="4" height="1" fill="#000"/>
<rect x="530" y="593" width="4" height="1" fill="#000"/>
<rect x="526" y="591" width="8" height="1" fill="#000"/>
<text x="501.00" y="598" font-size="11.5" textLength="13.58" lengthAdjust="spacingAndGlyphs">10</text>
<text x="515.00" y="593" font-size="11.5">3</text>
<rect x="530" y="578" width="4" height="1" fill="#000"/>
<rect x="530" y="570" width="4" height="1" fill="#000"/>
<rect x="530" y="564" width="4" height="1" fill="#000"/>
<rect x="530" y="560" width="4" height="1" fill="#000"/>
<rect x="530" y="556" width="4" height="1" fill="#000"/>
<rect x="530" y="553" width="4" height="1" fill="#000"/>
<rect x="530" y="551" width="4" height="1" fill="#000"/>
<rect x="530" y="549" width="4" height="1" fill="#000"/>
<rect x="526" y="547" width="8" height="1" fill="#000"/>
<text x="501.00" y="554" font-size="11.5" textLength="13.58" lengthAdjust="spacingAndGlyphs">10</text>
<text x="515.00" y="549" font-size="11.5">4</text>
<rect x="530" y="533" width="4" height="1" fill="#000"/>
<rect x="530" y="525" width="4" height="1" fill="#000"/>
<rect x="530" y="520" width="4" height="1" fill="#000"/>
<rect x="530" y="515" width="4" height="1" fill="#000"/>
<rect x="530" y="512" width="4" height="1" fill="#000"/>
<rect x="530" y="509" width="4" height="1" fill="#000"/>
<rect x="530" y="506" width="4" height="1" fill="#000"/>
<rect x="530" y="504" width="4" height="1" fill="#000"/>
<rect x="526" y="502" width="8" height="1" fill="#000"/>
<text x="501.00" y="509" font-size="11.5" textLength="13.58" lengthAdjust="spacingAndGlyphs">10</text>
<text x="515.00" y="504" font-size="11.5">5</text>
<rect x="530" y="488" width="4" height="1" fill="#000"/>
<rect x="530" y="480" width="4" height="1" fill="#000"/>
<rect x="530" y="475" width="4" height="1" fill="#000"/>
<rect x="530" y="470" width="4" height="1" fill="#000"/>
<rect x="530" y="467" width="4" height="1" fill="#000"/>
<rect x="530" y="464" width="4" height="1" fill="#000"/>
<rect x="530" y="461" width="4" height="1" fill="#000"/>
<rect x="530" y="459" width="4" height="1" fill="#000"/>
<rect x="526" y="457" width="8" height="1" fill="#000"/>
<text x="501.00" y="464" font-size="11.5" textLength="13.58" lengthAdjust="spacingAndGlyphs">10</text>
<text x="515.00" y="459" font-size="11.5">6</text>
<rect x="540" y="603" width="1" height="4" fill="#000"/>
<rect x="547" y="603" width="1" height="4" fill="#000"/>
<rect x="554" y="603" width="1" height="4" fill="#000"/>
<rect x="559" y="603" width="1" height="4" fill="#000"/>
<rect x="564" y="603" width="1" height="4" fill="#000"/>
<rect x="569" y="603" width="1" height="8" fill="#000"/>
<text x="558.90" y="625" font-size="11.5" textLength="13.69" lengthAdjust="spacingAndGlyphs">10</text>
<text x="573.10" y="620" font-size="11.5">3</text>
<rect x="597" y="603" width="1" height="4" fill="#000"/>
<rect x="614" y="603" width="1" height="4" fill="#000"/>
<rect x="626" y="603" width="1" height="4" fill="#000"/>
<rect x="636" y="603" width="1" height="4" fill="#000"/>
<rect x="643" y="603" width="1" height="4" fill="#000"/>
<rect x="650" y="603" width="1" height="4" fill="#000"/>
<rect x="655" y="603" width="1" height="4" fill="#000"/>
<rect x="660" y="603" width="1" height="4" fill="#000"/>
<rect x="665" y="603" width="1" height="8" fill="#000"/>
<text x="654.90" y="625" font-size="11.5" textLength="13.69" lengthAdjust="spacingAndGlyphs">10</text>
<text x="669.35" y="620" font-size="11.5">4</text>
<rect x="693" y="603" width="1" height="4" fill="#000"/>
<rect x="710" y="603" width="1" height="4" fill="#000"/>
<rect x="722" y="603" width="1" height="4" fill="#000"/>
<rect x="732" y="603" width="1" height="4" fill="#000"/>
<rect x="739" y="603" width="1" height="4" fill="#000"/>
<rect x="746" y="603" width="1" height="4" fill="#000"/>
<rect x="751" y="603" width="1" height="4" fill="#000"/>
<rect x="756" y="603" width="1" height="4" fill="#000"/>
<rect x="761" y="603" width="1" height="8" fill="#000"/>
<text x="750.90" y="625" font-size="11.5" textLength="13.69" lengthAdjust="spacingAndGlyphs">10</text>
<text x="765.10" y="620" font-size="11.5">5</text>
<rect x="789" y="603" width="1" height="4" fill="#000"/>
<rect x="806" y="603" width="1" height="4" fill="#000"/>
<rect x="818" y="603" width="1" height="4" fill="#000"/>
<rect x="828" y="603" width="1" height="4" fill="#000"/>
<rect x="835" y="603" width="1" height="4" fill="#000"/>
<rect x="842" y="603" width="1" height="4" fill="#000"/>
<rect x="847" y="603" width="1" height="4" fill="#000"/>
<text x="0" y="0" font-size="11.5" textLength="95.72" lengthAdjust="spacingAndGlyphs" transform="translate(493,571.43) rotate(-90)">_45pt0_65pt0keV</text>
<text x="643.67" y="641" font-size="11.5" textLength="96.22" lengthAdjust="spacingAndGlyphs">_65pt0_95pt0keV</text>
<path d="M672 517h1v1h-1zM674 515h1v1h-1zM675 513h1v1h-1zM674 510h1v1h-1zM677 509h1v1h-1zM679 506h1v1h-1zM681 504h1v1h-1zM683 503h1v1h-1zM685 502h1v1h-1zM687 500h1v1h-1zM689 498h1v1h-1zM695 496h1v1h-1zM698 495h1v1h-1zM701 493h1v1h-1zM703 493h1v1h-1zM705 492h1v1h-1zM708 491h1v1h-1zM710 490h1v1h-1zM712 492h1v1h-1zM714 489h1v1h-1zM714 491h1v1h-1zM716 488h1v1h-1zM718 488h1v1h-1zM718 490h1v1h-1zM721 487h1v1h-1zM722 488h1v1h-1zM724 486h1v1h-1zM725 487h1v1h-1zM727 486h1v1h-1zM728 484h1v1h-1zM730 485h1v1h-1zM732 485h1v1h-1zM731 483h1v1h-1zM734 482h1v1h-1zM734 484h1v1h-1zM737 484h1v1h-1zM738 483h1v1h-1zM740 483h1v1h-1zM739 480h1v1h-1zM742 479h1v1h-1zM742 482h1v1h-1zM745 479h1v1h-1zM747 478h1v1h-1zM749 478h1v1h-1zM751 478h1v1h-1zM754 478h1v1h-1zM756 479h1v1h-1zM758 479h1v1h-1zM760 479h1v1h-1zM760 481h1v1h-1zM758 482h1v1h-1zM757 484h1v1h-1zM756 485h1v1h-1zM755 487h1v1h-1zM755 490h1v1h-1zM756 493h1v1h-1zM755 496h1v1h-1zM755 499h1v1h-1zM752 502h1v1h-1zM752 503h1v1h-1zM750 507h1v1h-1zM745 511h1v1h-1zM739 515h1v1h-1zM733 519h1v1h-1zM726 523h1v1h-1zM718 524h1v1h-1zM712 528h1v1h-1zM706 527h1v1h-1zM700 529h1v1h-1zM696 530h1v1h-1zM692 531h1v1h-1zM688 530h1v1h-1zM686 529h1v1h-1zM682 531h1v1h-1zM679 532h1v1h-1zM682 503h1v1h-1zM680 505h1v1h-1zM678 506h1v1h-1zM676 508h1v1h-1zM675 514h1v1h-1zM674 519h1v1h-1zM675 522h1v1h-1zM683 522h1v1h-1zM685 520h1v1h-1zM691 518h1v1h-1zM695 516h1v1h-1zM702 511h1v1h-1zM708 509h1v1h-1zM712 507h1v1h-1zM714 503h1v1h-1zM718 503h1v1h-1zM724 498h1v1h-1zM737 491h1v1h-1zM739 491h1v1h-1zM739 494h1v1h-1zM741 489h1v1h-1zM749 486h1v1h-1zM753 485h1v1h-1zM745 481h1v1h-1zM746 482h1v1h-1zM747 481h1v1h-1zM748 482h1v1h-1zM746 483h1v1h-1zM747 484h1v1h-1zM748 481h1v1h-1zM749 482h1v1h-1zM745 483h1v1h-1zM675 516h1v1h-1zM674 518h1v1h-1zM675 521h1v1h-1zM679 529h1v1h-1zM680 531h1v1h-1zM682 530h1v1h-1zM684 531h1v1h-1zM686 530h1v1h-1zM688 529h1v1h-1zM688 531h1v1h-1zM683 528h1v1h-1zM665 531h1v1h-1zM667 533h1v1h-1zM663 533h1v1h-1zM685 522h1v1h-1zM689 521h1v1h-1zM675 523h1v1h-1zM676 523h1v1h-1zM677 523h1v1h-1zM679 523h1v1h-1zM674 524h1v1h-1zM675 524h1v1h-1zM677 524h1v1h-1zM679 524h1v1h-1zM680 524h1v1h-1zM681 524h1v1h-1zM672 525h1v1h-1zM673 525h1v1h-1zM674 525h1v1h-1zM675 525h1v1h-1zM676 525h1v1h-1zM678 525h1v1h-1zM679 525h1v1h-1zM680 525h1v1h-1zM671 526h1v1h-1zM672 526h1v1h-1zM673 526h1v1h-1zM674 526h1v1h-1zM675 526h1v1h-1zM676 526h1v1h-1zM677 526h1v1h-1zM679 526h1v1h-1zM680 526h1v1h-1zM671 527h1v1h-1zM672 527h1v1h-1zM673 527h1v1h-1zM675 527h1v1h-1zM678 527h1v1h-1zM669 528h1v1h-1zM670 528h1v1h-1zM671 528h1v1h-1zM672 528h1v1h-1zM673 528h1v1h-1zM674 528h1v1h-1zM675 528h1v1h-1zM676 528h1v1h-1zM677 528h1v1h-1zM667 529h1v1h-1zM668 529h1v1h-1zM669 529h1v1h-1zM670 529h1v1h-1zM671 529h1v1h-1zM672 529h1v1h-1zM673 529h1v1h-1zM675 529h1v1h-1zM676 529h1v1h-1zM666 530h1v1h-1zM667 530h1v1h-1zM668 530h1v1h-1zM669 530h1v1h-1zM670 530h1v1h-1zM671 530h1v1h-1zM672 530h1v1h-1zM673 530h1v1h-1zM675 530h1v1h-1zM668 531h1v1h-1zM669 531h1v1h-1zM670 531h1v1h-1zM671 531h1v1h-1zM672 531h1v1h-1zM673 531h1v1h-1zM674 531h1v1h-1zM675 531h1v1h-1zM667 532h1v1h-1zM670 532h1v1h-1zM671 532h1v1h-1zM672 532h1v1h-1zM674 532h1v1h-1z" fill="#000"/>
<defs><clipPath id="c1"><rect x="111" y="45" width="738" height="155"/></clipPath></defs>
</svg>
</body></html>
